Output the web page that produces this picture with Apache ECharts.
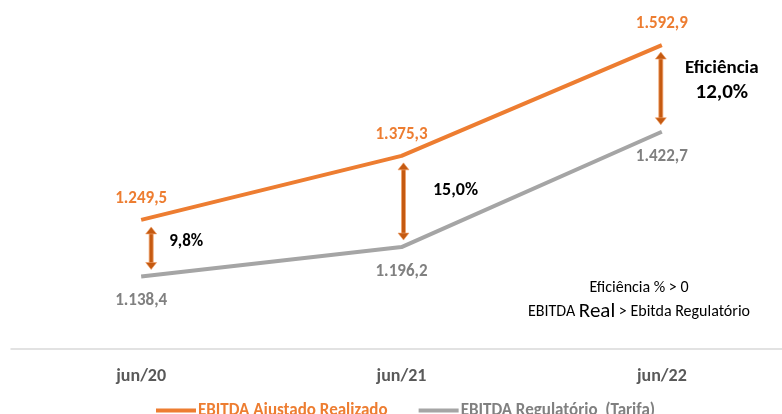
<!DOCTYPE html>
<html>
<head>
<meta charset="utf-8">
<script src="https://cdn.jsdelivr.net/npm/echarts@6/dist/echarts.min.js"></script>
<style>
  html, body { margin: 0; padding: 0; background: #fff; overflow: hidden; }
  /* o eixo do original passa da borda direita: o canvas e 10px mais largo */
  #chart { width: 792px; height: 414px; }
</style>
</head>
<body>
<div id="chart"></div>
<script>
const periods = ["jun/20", "jun/21", "jun/22"];
const ebitdaRealizado = [1249.5, 1375.3, 1592.9];
const ebitdaRegulatorio = [1138.4, 1196.2, 1422.7];
const eficiencia = ["9,8%", "15,0%", "12,0%"];
const seriesNames = ["EBITDA Ajustado Realizado", "EBITDA Regulatório  (Tarifa)"];

const FONT = "Carlito, Lato, sans-serif";
const ORANGE = "#ED7D31";
const GRAY = "#A5A5A5";
const fmt = (v) => {
  const [i, d] = v.toFixed(1).split(".");
  return i.replace(/\B(?=(\d{3})+(?!\d))/g, ".") + "," + d;
};

// ajustes finos de posicao das setas e dos textos (px)
const arrowShift = [10, 2, -1];
const textShift = [[35, -6], [52, -11], [61, -8]];
const textSize = [17, 18, 21];

const chart = echarts.init(document.getElementById("chart"));

const option = {
  animation: false,
  textStyle: { fontFamily: FONT },
  grid: { left: 11, right: 0, top: 16, bottom: 65, outerBoundsMode: "none" },
  xAxis: {
    type: "category",
    data: periods,
    axisLine: { lineStyle: { color: "#D9D9D9", width: 1.5 } },
    axisTick: { show: false },
    axisLabel: { margin: 18, fontSize: 18, fontWeight: "bold", color: "#595959", fontFamily: FONT },
  },
  yAxis: { type: "value", min: 996, max: 1650, show: false, splitLine: { show: false } },
  legend: {
    left: 151,
    top: 397,
    icon: "rect",
    itemWidth: 40,
    itemHeight: 4,
    itemGap: 31,
    textStyle: { fontSize: 17, fontWeight: "bold", fontFamily: FONT, padding: [0, 0, 0, -3] },
    data: [
      { name: seriesNames[0], textStyle: { color: ORANGE } },
      { name: seriesNames[1], textStyle: { color: "#808080" } },
    ],
  },
  series: [
    {
      name: seriesNames[0],
      type: "line",
      data: ebitdaRealizado,
      color: ORANGE,
      symbol: "circle",
      symbolSize: 0.1,
      lineStyle: { width: 4, color: ORANGE },
      label: {
        show: true, position: "top", distance: 13, formatter: (p) => fmt(p.value),
        color: ORANGE, fontWeight: "bold", fontSize: 17, fontFamily: FONT,
      },
    },
    {
      name: seriesNames[1],
      type: "line",
      data: ebitdaRegulatorio,
      color: GRAY,
      symbol: "circle",
      symbolSize: 0.1,
      lineStyle: { width: 4, color: GRAY },
      label: {
        show: true, position: "bottom", distance: 16, formatter: (p) => fmt(p.value),
        color: "#808080", fontWeight: "bold", fontSize: 17, fontFamily: FONT,
      },
    },
    {
      type: "custom",
      silent: true,
      data: periods.map((p, i) => [i, ebitdaRealizado[i], ebitdaRegulatorio[i]]),
      encode: { x: 0, y: [1, 2] },
      renderItem: (params, api) => {
        const i = api.value(0);
        const top = api.coord([i, api.value(1)]);
        const bot = api.coord([i, api.value(2)]);
        const x = top[0] + arrowShift[i];
        const y1 = top[1] + 7;
        const y2 = bot[1] - 7;
        const hw = 5.5, hh = 7;
        const fill = "#C55A11", stroke = "#F1A26B";
        const children = [
          { type: "rect", shape: { x: x - 2, y: y1 + hh - 1, width: 4, height: y2 - y1 - 2 * hh + 2 },
            style: { fill: fill, stroke: stroke, lineWidth: 0.8 } },
          { type: "polygon", shape: { points: [[x, y1], [x - hw, y1 + hh], [x + hw, y1 + hh]] },
            style: { fill: fill, stroke: stroke, lineWidth: 0.6 } },
          { type: "polygon", shape: { points: [[x, y2], [x - hw, y2 - hh], [x + hw, y2 - hh]] },
            style: { fill: fill, stroke: stroke, lineWidth: 0.6 } },
        ];
        const tx = x + textShift[i][0];
        const ty = (y1 + y2) / 2 + textShift[i][1];
        const last = i === periods.length - 1;
        children.push({
          type: "text",
          x: tx, y: ty,
          style: {
            text: last ? "{a|Eficiência}\n{b|" + eficiencia[i] + "}" : eficiencia[i],
            align: "center", verticalAlign: "middle",
            fill: "#000", fontFamily: FONT, fontWeight: "bold",
            fontSize: textSize[i],
            rich: {
              a: { fontSize: 19, fontWeight: "bold", fontFamily: FONT, lineHeight: 25, fill: "#000" },
              b: { fontSize: 21, fontWeight: "bold", fontFamily: FONT, lineHeight: 25, fill: "#000" },
            },
          },
        });
        return { type: "group", children: children };
      },
    },
  ],
  graphic: [
    {
      type: "text",
      x: 639, y: 300,
      style: {
        text: "Eficiência % > 0\nEBITDA {b|Real} > Ebitda Regulatório",
        align: "center", verticalAlign: "middle",
        fontFamily: FONT, fontSize: 16, fill: "#000", lineHeight: 24,
        rich: { b: { fontSize: 21, fontFamily: FONT, fill: "#000", lineHeight: 24 } },
      },
    },
  ],
};

chart.setOption(option);
</script>
</body>
</html>
